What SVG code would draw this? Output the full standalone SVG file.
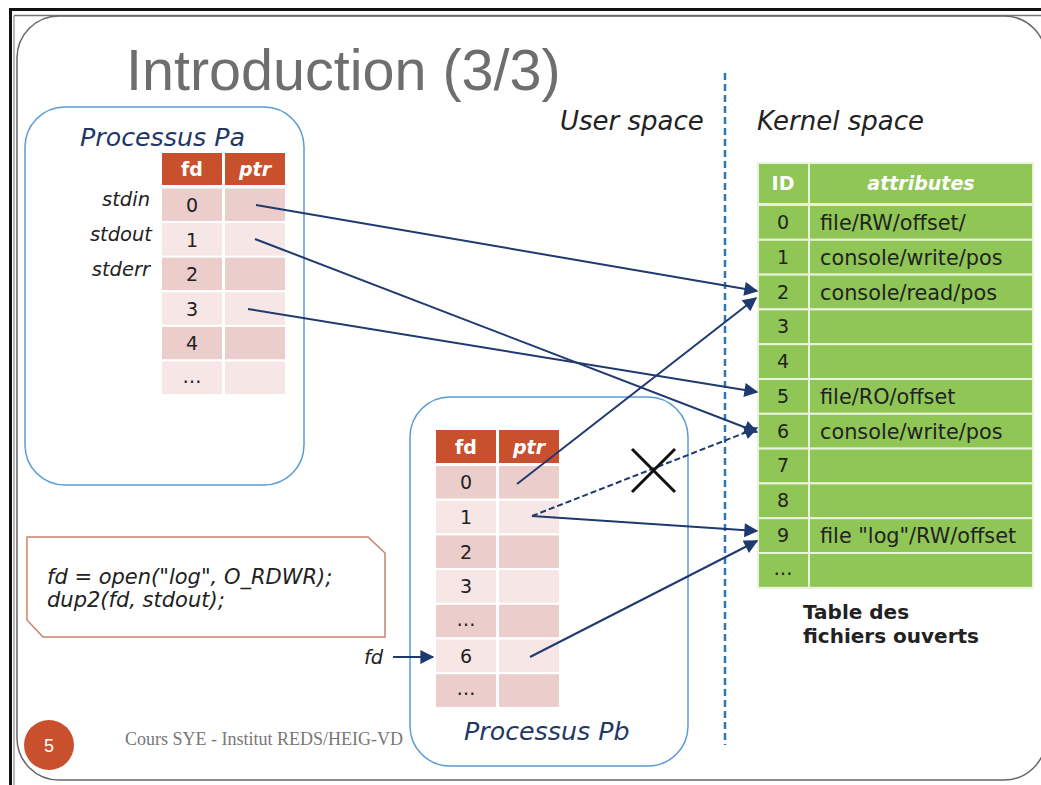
<svg xmlns="http://www.w3.org/2000/svg" width="1041" height="785" viewBox="0 0 1041 785">
  <defs>
    <marker id="ah" viewBox="0 0 10 10" refX="9" refY="5" markerWidth="17" markerHeight="14" markerUnits="userSpaceOnUse" orient="auto">
      <path d="M0,0 L10,5 L0,10 z" fill="#1f3a6e"/>
    </marker>
    <style>
      .ui { font-family: "DejaVu Sans", Verdana, sans-serif; }
      .it { font-family: "DejaVu Sans", Verdana, sans-serif; font-style: italic; }
      .hdr { fill: #c9502c; stroke: #fff; stroke-width: 2; }
      .dk { fill: #ebcdcb; stroke: #fff; stroke-width: 2; }
      .lt { fill: #f6e6e5; stroke: #fff; stroke-width: 2; }
      .gr { fill: #8fc655; stroke: #e9f3dc; stroke-width: 2; }
      .hd-t { font-family: "DejaVu Sans", Verdana, sans-serif; font-weight: bold; fill: #fff; font-size: 19px; text-anchor: middle; }
      .num { font-family: "DejaVu Sans", Verdana, sans-serif; font-size: 19px; fill: #222; text-anchor: middle; }
      .att { font-family: "DejaVu Sans", Verdana, sans-serif; font-size: 20.8px; fill: #222; }
      .proc { fill: #fff; stroke: #5b9bd5; stroke-width: 1.5; }
      .ptitle { font-family: "DejaVu Sans", Verdana, sans-serif; font-style: italic; font-size: 25.3px; fill: #1f3864; }
      .lbl { font-family: "DejaVu Sans", Verdana, sans-serif; font-style: italic; font-size: 19.5px; fill: #222; }
      .code { font-family: "DejaVu Sans", Verdana, sans-serif; font-style: italic; font-size: 21px; fill: #222; }
      .arr { stroke: #1f3a6e; stroke-width: 2; fill: none; marker-end: url(#ah); }
    </style>
  </defs>

  <!-- slide frame -->
  <rect x="0" y="0" width="1041" height="785" fill="#fff"/>
  <line x1="10.5" y1="9" x2="10.5" y2="785" stroke="#111" stroke-width="3"/>
  <line x1="9" y1="9.5" x2="1041" y2="9.5" stroke="#111" stroke-width="3"/>
  <line x1="14" y1="15.5" x2="14" y2="785" stroke="#888" stroke-width="1.2"/>
  <line x1="14" y1="15.5" x2="1041" y2="15.5" stroke="#777" stroke-width="1.5"/>
  <rect x="17" y="16" width="1029" height="764" rx="42" ry="42" fill="none" stroke="#666" stroke-width="1.5"/>

  <!-- title -->
  <text x="126" y="90" font-family="Liberation Sans, Arial, sans-serif" font-size="57.5" fill="#6e6e6e">Introduction (3/3)</text>

  <!-- user / kernel boundary -->
  <line x1="725" y1="73" x2="725" y2="745" stroke="#2e75b6" stroke-width="2.5" stroke-dasharray="7 4"/>
  <text x="560" y="130" class="it" font-size="26" fill="#222">User space</text>
  <text x="757" y="130" class="it" font-size="26" fill="#222">Kernel space</text>

  <!-- process Pa -->
  <g id="processus-pa">
    <rect class="proc" x="25" y="107" width="279" height="378" rx="40" ry="40"/>
    <text class="ptitle" x="80" y="146">Processus Pa</text>
    <rect class="hdr" x="161" y="152" width="62" height="34"/>
    <rect class="hdr" x="224" y="152" width="62" height="34"/>
    <text class="hd-t" x="192" y="176">fd</text>
    <text class="hd-t" x="255" y="176" font-style="italic">ptr</text>
    <rect class="dk" x="161" y="187.5" width="62" height="34.6"/><rect class="dk" x="224" y="187.5" width="62" height="34.6"/>
    <rect class="lt" x="161" y="222.1" width="62" height="34.6"/><rect class="lt" x="224" y="222.1" width="62" height="34.6"/>
    <rect class="dk" x="161" y="256.7" width="62" height="34.6"/><rect class="dk" x="224" y="256.7" width="62" height="34.6"/>
    <rect class="lt" x="161" y="291.3" width="62" height="34.6"/><rect class="lt" x="224" y="291.3" width="62" height="34.6"/>
    <rect class="dk" x="161" y="325.9" width="62" height="34.6"/><rect class="dk" x="224" y="325.9" width="62" height="34.6"/>
    <rect class="lt" x="161" y="360.5" width="62" height="34.6"/><rect class="lt" x="224" y="360.5" width="62" height="34.6"/>
    <text class="num" x="192" y="212">0</text>
    <text class="num" x="192" y="247">1</text>
    <text class="num" x="192" y="281">2</text>
    <text class="num" x="192" y="316">3</text>
    <text class="num" x="192" y="350">4</text>
    <text class="num" x="192" y="383">…</text>
    <text class="lbl" x="150" y="206" text-anchor="end">stdin</text>
    <text class="lbl" x="152" y="241" text-anchor="end">stdout</text>
    <text class="lbl" x="150" y="276" text-anchor="end">stderr</text>
  </g>

  <!-- process Pb -->
  <g id="processus-pb">
    <rect class="proc" x="410" y="397" width="278" height="369" rx="40" ry="40"/>
    <rect class="hdr" x="435" y="429" width="62" height="35"/>
    <rect class="hdr" x="498" y="429" width="62" height="35"/>
    <text class="hd-t" x="466" y="454">fd</text>
    <text class="hd-t" x="529" y="454" font-style="italic">ptr</text>
    <rect class="dk" x="435" y="465" width="62" height="34.7"/><rect class="dk" x="498" y="465" width="62" height="34.7"/>
    <rect class="lt" x="435" y="499.7" width="62" height="34.7"/><rect class="lt" x="498" y="499.7" width="62" height="34.7"/>
    <rect class="dk" x="435" y="534.4" width="62" height="34.7"/><rect class="dk" x="498" y="534.4" width="62" height="34.7"/>
    <rect class="lt" x="435" y="569.1" width="62" height="34.7"/><rect class="lt" x="498" y="569.1" width="62" height="34.7"/>
    <rect class="dk" x="435" y="603.8" width="62" height="34.7"/><rect class="dk" x="498" y="603.8" width="62" height="34.7"/>
    <rect class="lt" x="435" y="638.5" width="62" height="34.7"/><rect class="lt" x="498" y="638.5" width="62" height="34.7"/>
    <rect class="dk" x="435" y="673.2" width="62" height="34.7"/><rect class="dk" x="498" y="673.2" width="62" height="34.7"/>
    <text class="num" x="466" y="489">0</text>
    <text class="num" x="466" y="524">1</text>
    <text class="num" x="466" y="559">2</text>
    <text class="num" x="466" y="593">3</text>
    <text class="num" x="466" y="626">…</text>
    <text class="num" x="466" y="663">6</text>
    <text class="num" x="466" y="695">…</text>
    <text class="ptitle" x="464" y="740">Processus Pb</text>
  </g>

  <!-- open file table -->
  <g id="table-fichiers">
    <rect class="gr" x="758" y="163" width="51" height="41"/>
    <rect class="gr" x="809" y="163" width="224" height="41"/>
    <text class="hd-t" x="783" y="190">ID</text>
    <text class="hd-t" x="921" y="190" font-style="italic">attributes</text>
    <g>
      <rect class="gr" x="758" y="205" width="51" height="34.8"/><rect class="gr" x="809" y="205" width="224" height="34.8"/>
      <rect class="gr" x="758" y="239.8" width="51" height="34.8"/><rect class="gr" x="809" y="239.8" width="224" height="34.8"/>
      <rect class="gr" x="758" y="274.6" width="51" height="34.8"/><rect class="gr" x="809" y="274.6" width="224" height="34.8"/>
      <rect class="gr" x="758" y="309.4" width="51" height="34.8"/><rect class="gr" x="809" y="309.4" width="224" height="34.8"/>
      <rect class="gr" x="758" y="344.2" width="51" height="34.8"/><rect class="gr" x="809" y="344.2" width="224" height="34.8"/>
      <rect class="gr" x="758" y="379" width="51" height="34.8"/><rect class="gr" x="809" y="379" width="224" height="34.8"/>
      <rect class="gr" x="758" y="413.8" width="51" height="34.8"/><rect class="gr" x="809" y="413.8" width="224" height="34.8"/>
      <rect class="gr" x="758" y="448.6" width="51" height="34.8"/><rect class="gr" x="809" y="448.6" width="224" height="34.8"/>
      <rect class="gr" x="758" y="483.4" width="51" height="34.8"/><rect class="gr" x="809" y="483.4" width="224" height="34.8"/>
      <rect class="gr" x="758" y="518.2" width="51" height="34.8"/><rect class="gr" x="809" y="518.2" width="224" height="34.8"/>
      <rect class="gr" x="758" y="553" width="51" height="34.8"/><rect class="gr" x="809" y="553" width="224" height="34.8"/>
    </g>
    <text class="num" x="783" y="229">0</text>
    <text class="num" x="783" y="264">1</text>
    <text class="num" x="783" y="299">2</text>
    <text class="num" x="783" y="333">3</text>
    <text class="num" x="783" y="368">4</text>
    <text class="num" x="783" y="403">5</text>
    <text class="num" x="783" y="438">6</text>
    <text class="num" x="783" y="472">7</text>
    <text class="num" x="783" y="507">8</text>
    <text class="num" x="783" y="542">9</text>
    <text class="num" x="783" y="575">…</text>
    <text class="att" x="820" y="230">file/RW/offset/</text>
    <text class="att" x="820" y="265">console/write/pos</text>
    <text class="att" x="820" y="300">console/read/pos</text>
    <text class="att" x="820" y="404">file/RO/offset</text>
    <text class="att" x="820" y="439">console/write/pos</text>
    <text class="att" x="820" y="543">file "log"/RW/offset</text>
    <text class="ui" x="803" y="619" font-size="20" font-weight="bold" fill="#222">Table des</text>
    <text class="ui" x="803" y="643" font-size="20" font-weight="bold" fill="#222">fichiers ouverts</text>
  </g>

  <!-- code snippet -->
  <g id="code">
    <path d="M27,537 L368,537 L385,553 L385,637 L43,637 L27,620 Z" fill="#fff" stroke="#c9836a" stroke-width="1.5"/>
    <text class="code" x="47" y="584">fd = open("log", O_RDWR);</text>
    <text class="code" x="47" y="607">dup2(fd, stdout);</text>
  </g>

  <!-- fd pointer label -->
  <g id="fd-label">
    <text class="lbl" x="364" y="664">fd</text>
  </g>

  <!-- connectors -->
  <g id="connectors">
    <line class="arr" x1="256" y1="205" x2="757" y2="291"/>
    <line class="arr" x1="255" y1="239" x2="757" y2="432"/>
    <line class="arr" x1="248" y1="309" x2="757" y2="392"/>
    <line class="arr" x1="517" y1="484" x2="756" y2="298"/>
    <line class="arr" x1="532" y1="516" x2="757" y2="428" stroke-dasharray="6 3"/>
    <line class="arr" x1="532" y1="516" x2="757" y2="531"/>
    <line class="arr" x1="530" y1="657" x2="757" y2="541"/>
    <line class="arr" x1="393" y1="657" x2="433" y2="657"/>
  </g>

  <!-- removed link mark -->
  <g id="cross" stroke="#111" stroke-width="3">
    <line x1="632" y1="449" x2="675" y2="492"/>
    <line x1="675" y1="449" x2="632" y2="492"/>
  </g>

  <!-- footer -->
  <g id="footer">
    <circle cx="49" cy="745" r="25" fill="#c9502c"/>
    <text x="49" y="752" font-family="Liberation Sans, Arial, sans-serif" font-size="18" fill="#fff" text-anchor="middle">5</text>
    <text x="125" y="745" font-family="Liberation Serif, Times New Roman, serif" font-size="18" fill="#777">Cours SYE - Institut REDS/HEIG-VD</text>
  </g>
</svg>
